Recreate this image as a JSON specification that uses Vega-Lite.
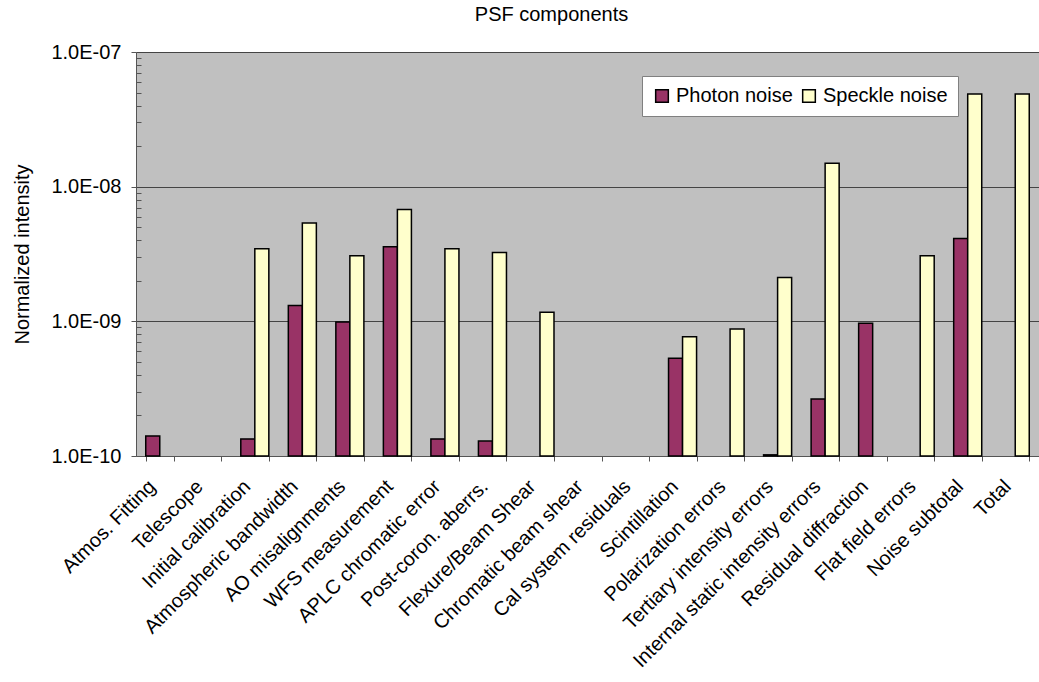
{
  "$schema": "https://vega.github.io/schema/vega-lite/v6.json",
  "width": 903,
  "height": 404,
  "autosize": {"type": "none"},
  "padding": {"left": 136, "top": 52, "right": 0, "bottom": 226},
  "background": "white",
  "title": {"text": "PSF components", "fontSize": 20, "fontWeight": "normal", "font": "Liberation Sans", "color": "black", "offset": 17, "anchor": "middle", "dx": -36},
  "config": {
    "view": {"fill": "#C0C0C0", "stroke": null},
    "font": "Liberation Sans"
  },
  "data": {
    "values": [
      {"component": "Atmos. Fitting", "series": "Photon noise", "value": 1.41e-10},
      {"component": "Initial calibration", "series": "Photon noise", "value": 1.34e-10},
      {"component": "Initial calibration", "series": "Speckle noise", "value": 3.46e-9},
      {"component": "Atmospheric bandwidth", "series": "Photon noise", "value": 1.31e-9},
      {"component": "Atmospheric bandwidth", "series": "Speckle noise", "value": 5.37e-9},
      {"component": "AO misalignments", "series": "Photon noise", "value": 9.9e-10},
      {"component": "AO misalignments", "series": "Speckle noise", "value": 3.07e-9},
      {"component": "WFS measurement", "series": "Photon noise", "value": 3.58e-9},
      {"component": "WFS measurement", "series": "Speckle noise", "value": 6.78e-9},
      {"component": "APLC chromatic error", "series": "Photon noise", "value": 1.34e-10},
      {"component": "APLC chromatic error", "series": "Speckle noise", "value": 3.46e-9},
      {"component": "Post-coron. aberrs.", "series": "Photon noise", "value": 1.29e-10},
      {"component": "Post-coron. aberrs.", "series": "Speckle noise", "value": 3.25e-9},
      {"component": "Flexure/Beam Shear", "series": "Speckle noise", "value": 1.17e-9},
      {"component": "Scintillation", "series": "Photon noise", "value": 5.31e-10},
      {"component": "Scintillation", "series": "Speckle noise", "value": 7.69e-10},
      {"component": "Polarization errors", "series": "Speckle noise", "value": 8.77e-10},
      {"component": "Tertiary intensity errors", "series": "Photon noise", "value": 1.02e-10},
      {"component": "Tertiary intensity errors", "series": "Speckle noise", "value": 2.12e-9},
      {"component": "Internal static intensity errors", "series": "Photon noise", "value": 2.65e-10},
      {"component": "Internal static intensity errors", "series": "Speckle noise", "value": 1.49e-8},
      {"component": "Residual diffraction", "series": "Photon noise", "value": 9.67e-10},
      {"component": "Flat field errors", "series": "Speckle noise", "value": 3.07e-9},
      {"component": "Noise subtotal", "series": "Photon noise", "value": 4.13e-9},
      {"component": "Noise subtotal", "series": "Speckle noise", "value": 4.88e-8},
      {"component": "Total", "series": "Speckle noise", "value": 4.88e-8}
    ]
  },
  "mark": {"type": "bar", "stroke": "black", "strokeWidth": 1.5},
  "encoding": {
    "x": {
      "field": "component",
      "type": "nominal",
      "sort": ["Atmos. Fitting", "Telescope", "Initial calibration", "Atmospheric bandwidth", "AO misalignments", "WFS measurement", "APLC chromatic error", "Post-coron. aberrs.", "Flexure/Beam Shear", "Chromatic beam shear", "Cal system residuals", "Scintillation", "Polarization errors", "Tertiary intensity errors", "Internal static intensity errors", "Residual diffraction", "Flat field errors", "Noise subtotal", "Total"],
      "scale": {
        "domain": ["Atmos. Fitting", "Telescope", "Initial calibration", "Atmospheric bandwidth", "AO misalignments", "WFS measurement", "APLC chromatic error", "Post-coron. aberrs.", "Flexure/Beam Shear", "Chromatic beam shear", "Cal system residuals", "Scintillation", "Polarization errors", "Tertiary intensity errors", "Internal static intensity errors", "Residual diffraction", "Flat field errors", "Noise subtotal", "Total"],
        "paddingInner": 0.41,
        "paddingOuter": 0.205
      },
      "axis": {
        "title": null,
        "labelAngle": -45,
        "labelFontSize": 20,
        "labelColor": "black",
        "labelFont": "Liberation Sans",
        "tickBand": "extent",
        "tickColor": "#555555",
        "tickSize": 5,
        "domainColor": "#555555",
        "domainWidth": 1,
        "labelPadding": 15,
        "labelOffset": -15,
        "labelLimit": 400
      }
    },
    "xOffset": {"field": "series", "type": "nominal", "scale": {"domain": ["Photon noise", "Speckle noise"], "paddingInner": 0, "paddingOuter": 0}},
    "y": {
      "field": "value",
      "type": "quantitative",
      "scale": {"type": "log", "domain": [1e-10, 1e-7], "nice": false},
      "axis": {
        "title": "Normalized intensity",
        "titleFontSize": 20,
        "titleFontWeight": "normal",
        "titleColor": "black",
        "titleFont": "Liberation Sans",
        "titlePadding": 18,
        "labelFontSize": 20,
        "labelColor": "black",
        "labelFont": "Liberation Sans",
        "labelPadding": 10,
        "values": [1e-10, 2e-10, 3e-10, 4e-10, 5e-10, 6e-10, 7e-10, 8e-10, 9e-10, 1e-9, 2e-9, 3e-9, 4e-9, 5e-9, 6e-9, 7e-9, 8e-9, 9e-9, 1e-8, 2e-8, 3e-8, 4e-8, 5e-8, 6e-8, 7e-8, 8e-8, 9e-8, 1e-7],
        "labelExpr": "abs(log(datum.value)/LN10 - round(log(datum.value)/LN10)) < 0.001 ? '1.0E-' + (abs(round(log(datum.value)/LN10)) < 10 ? '0' : '') + abs(round(log(datum.value)/LN10)) : ''",
        "grid": true,
        "gridColor": "#444444",
        "gridWidth": 1,
        "gridOpacity": {"condition": {"test": "abs(log(datum.value)/LN10 - round(log(datum.value)/LN10)) < 0.001", "value": 1}, "value": 0},
        "tickSize": {"condition": {"test": "abs(log(datum.value)/LN10 - round(log(datum.value)/LN10)) < 0.001", "value": 5}, "value": -5},
        "tickColor": "#555555",
        "domainColor": "#555555",
        "labelOverlap": false
      }
    },
    "y2": {"datum": 1e-10},
    "color": {
      "field": "series",
      "type": "nominal",
      "scale": {"domain": ["Photon noise", "Speckle noise"], "range": ["#993366", "#FFFFCC"]},
      "legend": {
        "title": null,
        "orient": "none",
        "legendX": 506,
        "legendY": 24,
        "direction": "horizontal",
        "fillColor": "white",
        "strokeColor": "#808080",
        "padding": 10,
        "symbolType": "square",
        "symbolSize": 160,
        "symbolStrokeColor": "black",
        "symbolStrokeWidth": 1.5,
        "symbolOpacity": 1,
        "labelFontSize": 20,
        "labelColor": "black",
        "labelFont": "Liberation Sans",
        "columnPadding": 6,
        "labelOffset": 4
      }
    }
  }
}
